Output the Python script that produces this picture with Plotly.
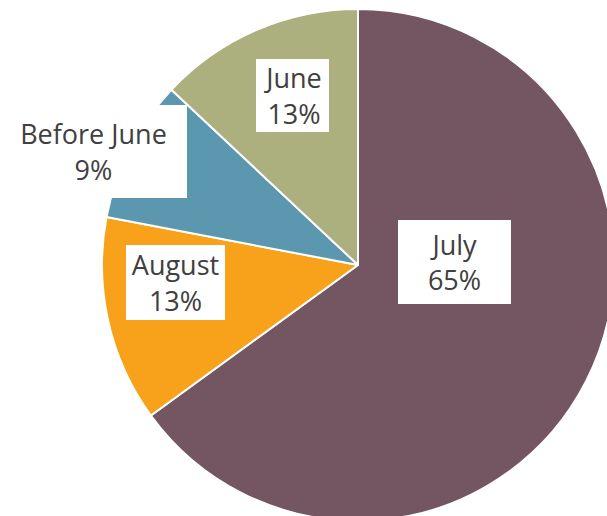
import plotly.graph_objects as go

labels = ["July", "August", "Before June", "June"]
values = [65, 13, 9, 13]
colors = ["#745663", "#F8A21C", "#5B97AF", "#ACAF7E"]

W, H = 620, 530
OFF = 0  # body margin removed by post_script

fig = go.Figure(go.Pie(
    labels=labels, values=values, sort=False, direction="clockwise", rotation=0,
    marker=dict(colors=colors, line=dict(color="white", width=2)),
    textinfo="none", hoverinfo="label+percent",
    domain=dict(x=[(102 - OFF) / W, (614 - OFF) / W],
                y=[1 - (521 - OFF) / H, 1 - (9 - OFF) / H]),
    showlegend=False,
))

# label boxes: (center x px, center y px, width, height) in screen pixels
boxes = [(454.5, 262, 113, 84), (175.5, 282.5, 99, 75), (93.5, 151.5, 187, 93), (292.5, 95.5, 73, 73)]
total = sum(values)
for lab, val, (cx, cy, bw, bh) in zip(labels, values, boxes):
    fig.add_annotation(
        x=(cx - OFF) / W, y=1 - (cy - OFF) / H, xref="paper", yref="paper",
        xanchor="center", yanchor="middle",
        text=f"{lab}<br>{round(100 * val / total)}%",
        showarrow=False, bgcolor="white", borderpad=0, borderwidth=0,
        width=bw, height=bh, align="center", valign="middle",
        font=dict(family="Open Sans", size=27, color="#404040"),
    )

fig.update_layout(width=W, height=H, margin=dict(l=0, r=0, t=0, b=0),
                  paper_bgcolor="white", plot_bgcolor="white")
fig.write_html("out.html", config={"displayModeBar": False},
               post_script="document.body.style.margin='0';document.body.style.overflow='hidden';")
